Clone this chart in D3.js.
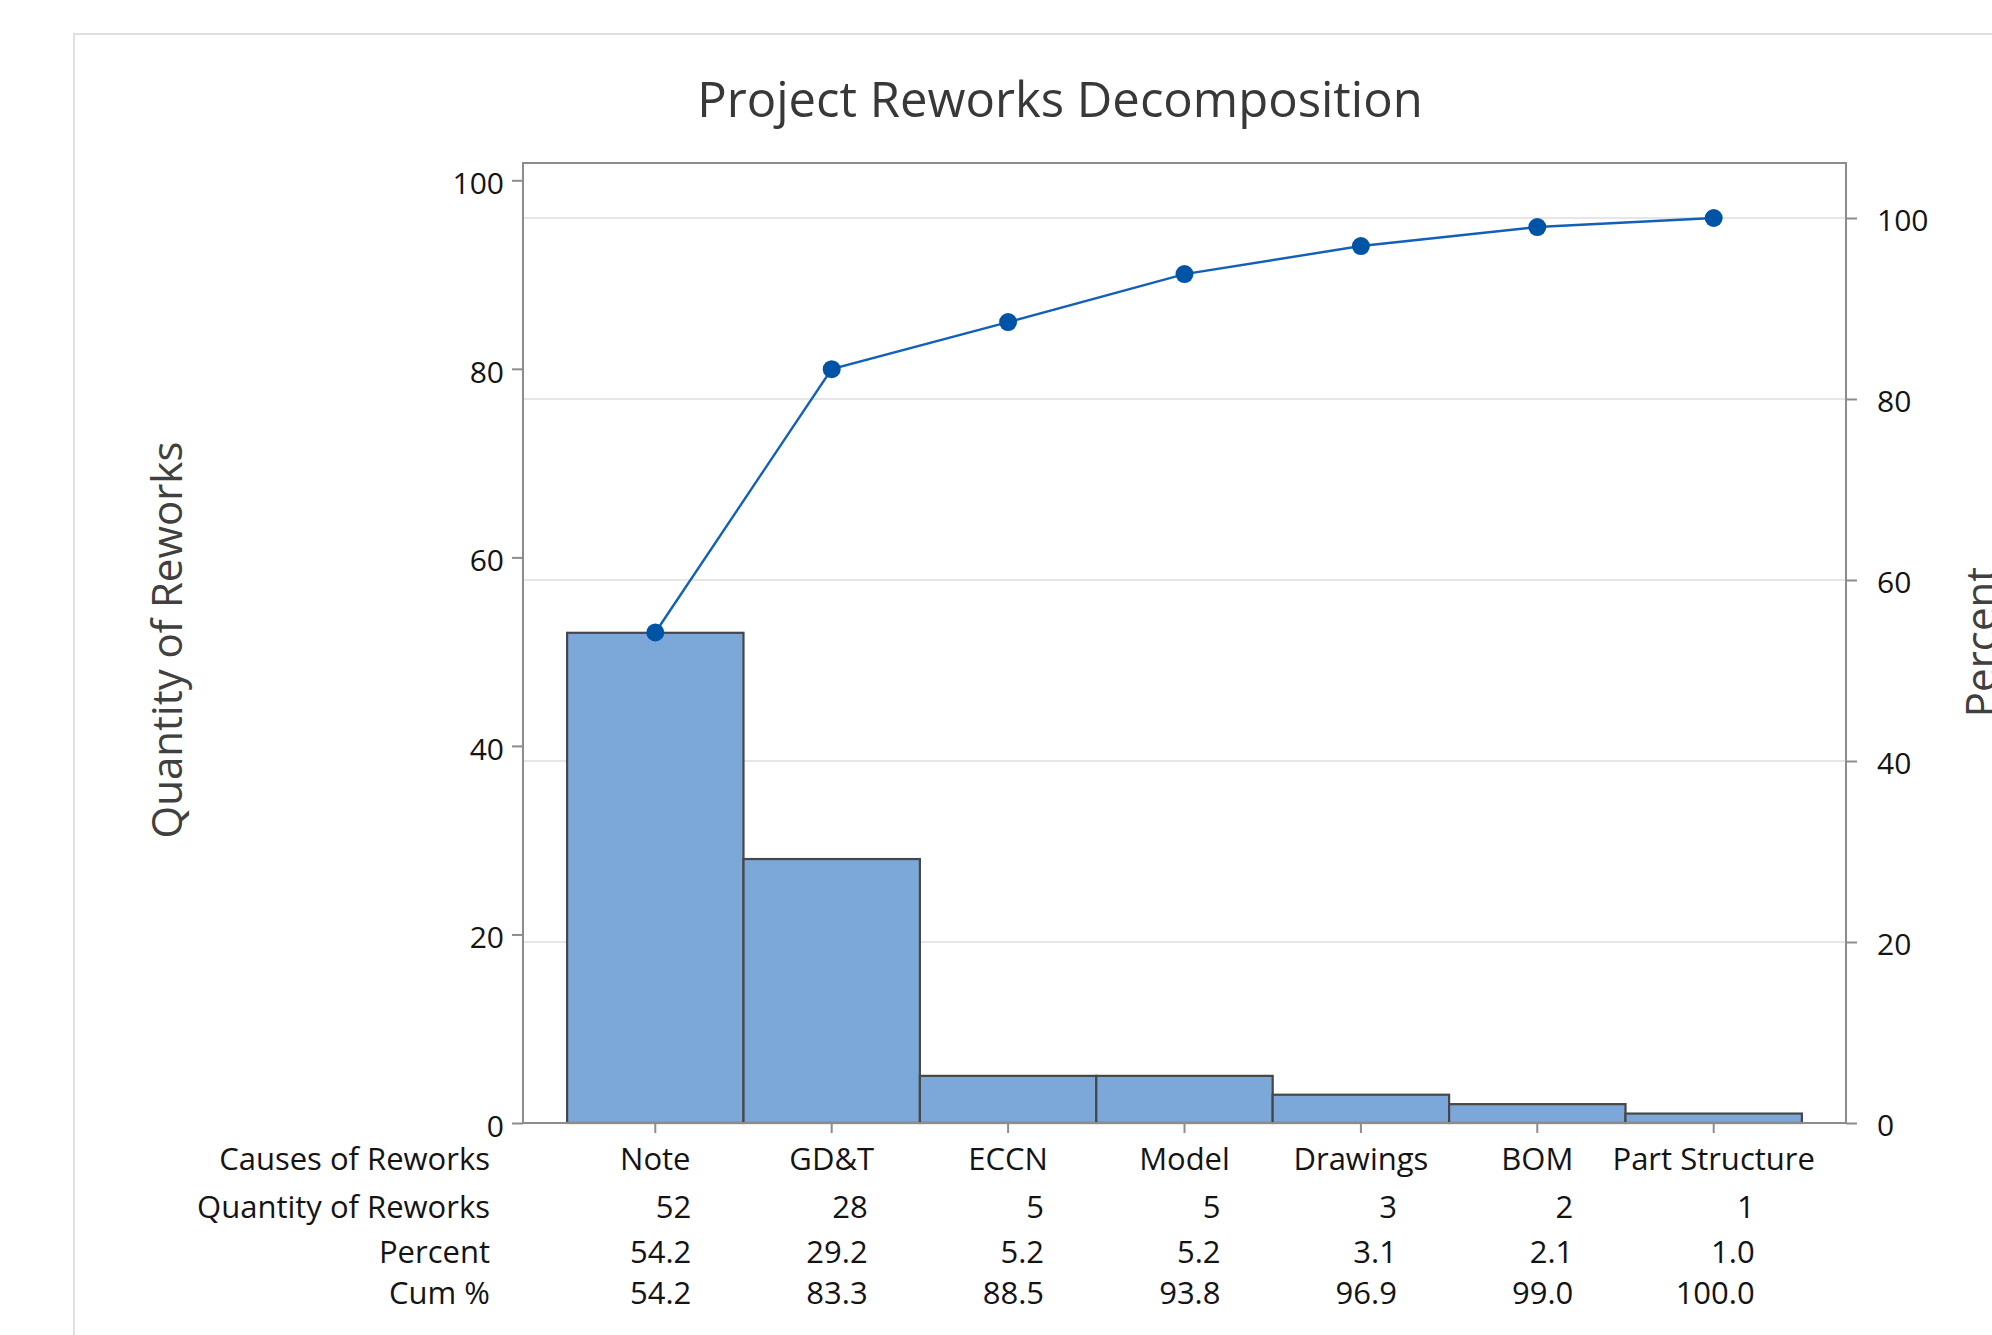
<!DOCTYPE html>
<html>
<head>
<meta charset="utf-8">
<script src="https://cdn.jsdelivr.net/npm/d3@7"></script>
<style>
  body { margin: 0; background: #fff; }
  svg { display: block; font-family: "Open Sans", sans-serif; }
</style>
</head>
<body>
<div id="chart"></div>
<script>
// Pareto data
const causes = ["Note", "GD&T", "ECCN", "Model", "Drawings", "BOM", "Part Structure"];
const counts = [52, 28, 5, 5, 3, 2, 1];
const percents = [54.2, 29.2, 5.2, 5.2, 3.1, 2.1, 1.0];
const cumPercents = [54.2, 83.3, 88.5, 93.8, 96.9, 99.0, 100.0];
const leftTicks = [0, 20, 40, 60, 80, 100];
const rightTicks = [0, 20, 40, 60, 80, 100];
const rowLabels = ["Causes of Reworks", "Quantity of Reworks", "Percent", "Cum %"];

const width = 1992;
const height = 1335;
const plot = { left: 523, right: 1846, top: 163, bottom: 1123 };
const headroom = 55; // gap between 100% and the plot top

const total = d3.sum(counts);

const svg = d3
  .select("#chart")
  .append("svg")
  .attr("width", width)
  .attr("height", height);

// outer panel
svg
  .append("rect")
  .attr("x", 74)
  .attr("y", 34)
  .attr("width", width)
  .attr("height", height)
  .attr("fill", "#fff")
  .attr("stroke", "#e0e0e0")
  .attr("stroke-width", 2);

const x = d3
  .scaleBand()
  .domain(causes)
  .range([plot.left, plot.right])
  .paddingInner(0)
  .paddingOuter(0.25);

// left axis counts: the total lines up with 100 %
const yLeft = d3
  .scaleLinear()
  .domain([0, total])
  .range([plot.bottom, plot.top + headroom]);

const yRight = d3
  .scaleLinear()
  .domain([0, 100])
  .range([plot.bottom, plot.top + headroom]);

// gridlines follow the percent axis
svg
  .append("g")
  .attr("class", "grid")
  .selectAll("line")
  .data(rightTicks.filter((t) => t > 0))
  .enter()
  .append("line")
  .attr("x1", plot.left)
  .attr("x2", plot.right)
  .attr("y1", (d) => yRight(d))
  .attr("y2", (d) => yRight(d))
  .attr("stroke", "#e6e6e6")
  .attr("stroke-width", 2);

// bars
svg
  .append("g")
  .attr("class", "bars")
  .selectAll("rect")
  .data(causes)
  .enter()
  .append("rect")
  .attr("x", (d) => x(d))
  .attr("y", (d, i) => yLeft(counts[i]))
  .attr("width", x.bandwidth())
  .attr("height", (d, i) => yLeft(0) - yLeft(counts[i]))
  .attr("fill", "#7ca7d9")
  .attr("stroke", "#474747")
  .attr("stroke-width", 2.2);

// frame
svg
  .append("rect")
  .attr("x", plot.left)
  .attr("y", plot.top)
  .attr("width", plot.right - plot.left)
  .attr("height", plot.bottom - plot.top)
  .attr("fill", "none")
  .attr("stroke", "#8c8c8c")
  .attr("stroke-width", 2);

// axes
const styleAxis = (g) => {
  g.select(".domain").remove();
  g.selectAll(".tick line").attr("stroke", "#8c8c8c").attr("stroke-width", 2);
  g.selectAll(".tick text")
    .attr("fill", "#141414")
    .style("font-size", "30px")
    .style("font-family", "'Open Sans', sans-serif");
};

svg
  .append("g")
  .attr("transform", `translate(${plot.left},0)`)
  .call(d3.axisLeft(yLeft).tickValues(leftTicks).tickSize(11).tickPadding(8))
  .call(styleAxis)
  .selectAll(".tick text")
  .attr("dy", "0.45em");

svg
  .append("g")
  .attr("transform", `translate(${plot.right},0)`)
  .call(d3.axisRight(yRight).tickValues(rightTicks).tickSize(11).tickPadding(20))
  .call(styleAxis)
  .selectAll(".tick text")
  .attr("dy", "0.4em");

svg
  .append("g")
  .attr("transform", `translate(0,${plot.bottom})`)
  .call(d3.axisBottom(x).tickSize(10).tickFormat(""))
  .call(styleAxis);

// cumulative percent line
const line = d3
  .line()
  .x((d, i) => x(causes[i]) + x.bandwidth() / 2)
  .y((d) => yRight(d));

svg
  .append("path")
  .datum(cumPercents)
  .attr("d", line)
  .attr("fill", "none")
  .attr("stroke", "#1260b8")
  .attr("stroke-width", 2.4);

svg
  .append("g")
  .attr("class", "points")
  .selectAll("circle")
  .data(cumPercents)
  .enter()
  .append("circle")
  .attr("cx", (d, i) => x(causes[i]) + x.bandwidth() / 2)
  .attr("cy", (d) => yRight(d))
  .attr("r", 9)
  .attr("fill", "#0054a6");

// title and axis labels
svg
  .append("text")
  .attr("x", 1060)
  .attr("y", 117)
  .attr("text-anchor", "middle")
  .attr("fill", "#383838")
  .style("font-size", "49px")
  .style("font-weight", 500)
  .text("Project Reworks Decomposition");

svg
  .append("text")
  .attr("transform", "translate(182,640) rotate(-90)")
  .attr("text-anchor", "middle")
  .attr("fill", "#404040")
  .style("font-size", "42px")
  .text("Quantity of Reworks");

svg
  .append("text")
  .attr("transform", "translate(1996,642) rotate(-90)")
  .attr("text-anchor", "middle")
  .attr("fill", "#404040")
  .style("font-size", "42px")
  .text("Percent");

// table under the axis
const rowBaselines = [1170, 1218, 1263, 1304];
const table = svg.append("g").attr("class", "table").style("font-size", "31px").attr("fill", "#141414");

table
  .selectAll(".row-label")
  .data(rowLabels)
  .enter()
  .append("text")
  .attr("class", "row-label")
  .attr("x", 490)
  .attr("y", (d, i) => rowBaselines[i])
  .attr("text-anchor", "end")
  .text((d) => d);

const center = (c) => x(c) + x.bandwidth() / 2;

table
  .selectAll(".cause")
  .data(causes)
  .enter()
  .append("text")
  .attr("class", "cause")
  .attr("x", (d) => center(d))
  .attr("y", rowBaselines[0])
  .attr("text-anchor", "middle")
  .text((d) => d);

const valueRows = [
  counts.map((d) => String(d)),
  percents.map((d) => d.toFixed(1)),
  cumPercents.map((d) => d.toFixed(1)),
];

valueRows.forEach((row, r) => {
  table
    .selectAll(`.val-${r}`)
    .data(row)
    .enter()
    .append("text")
    .attr("class", `val-${r}`)
    .attr("x", (d, i) => center(causes[i]) + (i === causes.length - 1 ? 41 : 36))
    .attr("y", rowBaselines[r + 1])
    .attr("text-anchor", "end")
    .text((d) => d);
});
</script>
</body>
</html>
